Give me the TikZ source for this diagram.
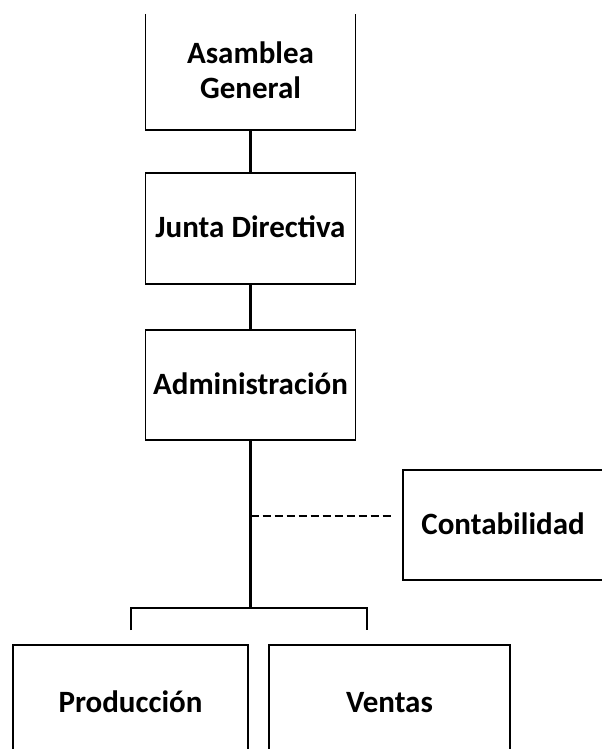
\documentclass[tikz,border=0pt]{standalone}
\usepackage{fontspec}
\setmainfont{Carlito}
\begin{document}
\begin{tikzpicture}[x=1bp,y=-1bp,
  box/.style={inner sep=0pt, outer sep=0pt, align=center,
    font=\fontsize{31bp}{35bp}\selectfont\bfseries},
  oneline/.style={box, text height=20bp, text depth=2bp},
  edge/.style={line width=1.6bp, line join=miter},
  conn/.style={line width=2.2bp},
  dotconn/.style={line width=1.5bp, dash pattern=on 8bp off 4bp}]
\useasboundingbox (0,0) rectangle (602,749);
\clip (0,0) rectangle (602,749);
% nodes
\node[box, minimum width=210bp, minimum height=116bp] (asm) at (250.5,72) {};
\node[box] (asmtxt) at (250.5,70) {Asamblea\\General};
\node[oneline, minimum width=210bp, minimum height=111bp] (jun) at (250.5,228.5) {Junta Directiva};
\node[oneline, minimum width=210bp, minimum height=110bp] (adm) at (250.5,385) {Administración};
\node[oneline, minimum width=200bp, minimum height=110bp] (con) at (503,525) {Contabilidad};
\node[oneline, minimum width=235bp, minimum height=116bp] (pro) at (130.5,703) {Producción};
\node[oneline, minimum width=241bp, minimum height=116bp] (ven) at (389.5,703) {Ventas};
% box outlines (open where the picture is cut)
\draw[edge] (asm.north west) -- (asm.south west) -- (asm.south east) -- (asm.north east);
\draw[edge] (jun.north west) rectangle (jun.south east);
\draw[edge] (adm.north west) rectangle (adm.south east);
\draw[edge] (con.north east) -- (con.north west) -- (con.south west) -- (con.south east);
\draw[edge] (pro.south west) -- (pro.north west) -- (pro.north east) -- (pro.south east);
\draw[edge] (ven.south west) -- (ven.north west) -- (ven.north east) -- (ven.south east);
% connectors
\coordinate (fork) at (250.5,608);
\coordinate (pdrop) at (131,630);
\coordinate (vdrop) at (367,630);
\coordinate (dstart) at (250.5,516);
\draw[conn] (asm.south) -- (jun.north);
\draw[conn] (jun.south) -- (adm.north);
\draw[conn] (adm.south) -- (fork);
\draw[conn] (pdrop) |- (fork) -| (vdrop);
\draw[dotconn, shorten >=10bp] (dstart) -- (con.west |- dstart);
\end{tikzpicture}
\end{document}
